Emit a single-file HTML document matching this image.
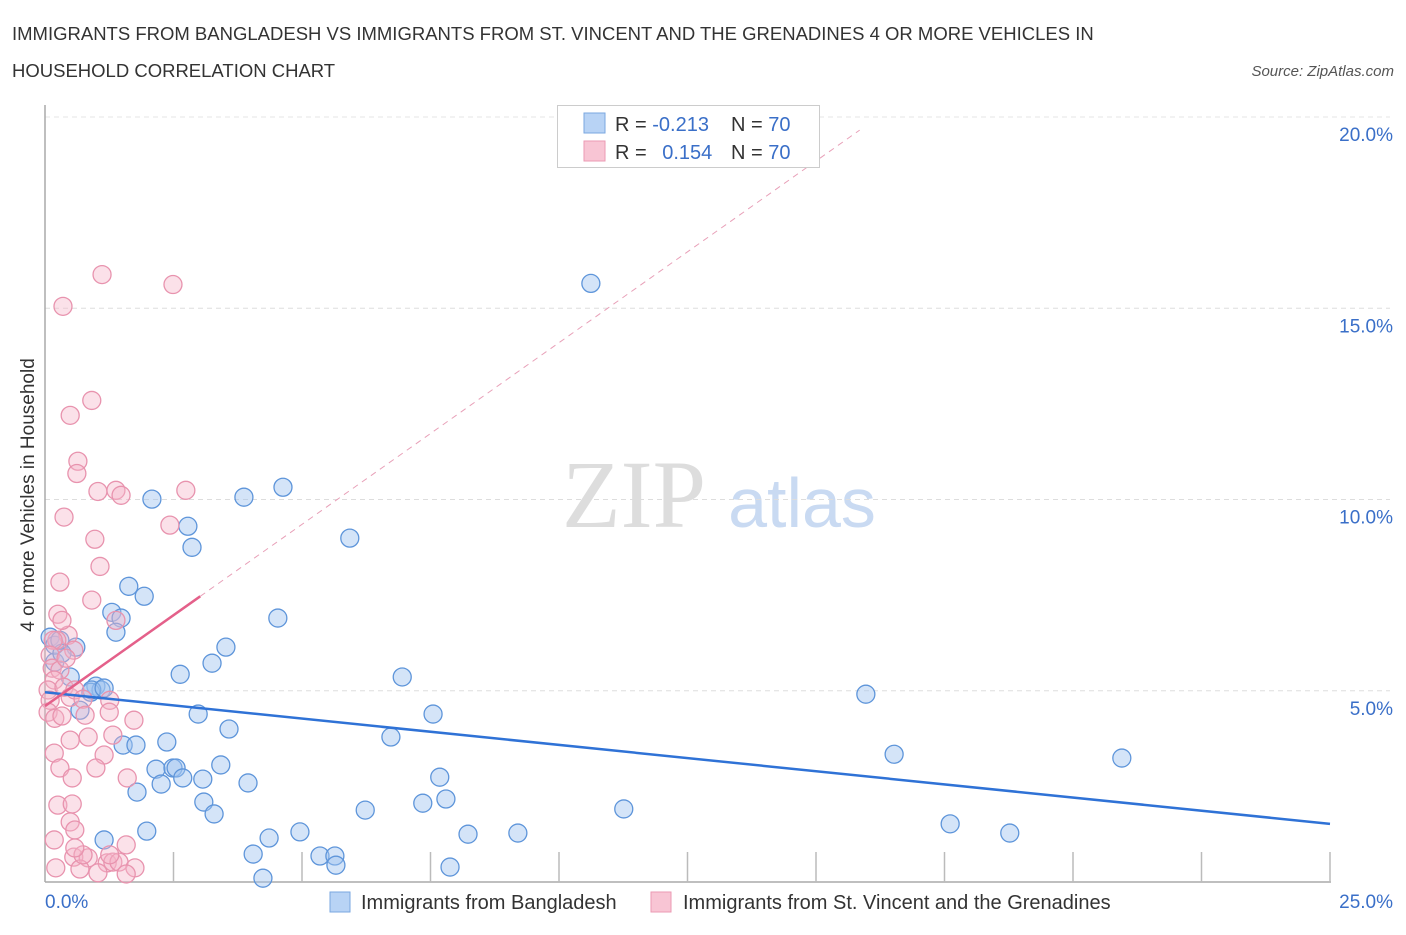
<!DOCTYPE html>
<html><head><meta charset="utf-8"><style>
body{margin:0;background:#fff;font-family:"Liberation Sans",sans-serif}
svg text{font-family:"Liberation Sans",sans-serif}
</style></head><body>
<svg id="c" width="1406" height="930" viewBox="0 0 1406 930">
<text x="12" y="40" font-size="18.5" fill="#333">IMMIGRANTS FROM BANGLADESH VS IMMIGRANTS FROM ST. VINCENT AND THE GRENADINES 4 OR MORE VEHICLES IN</text>
<text x="12" y="77" font-size="18.5" fill="#333">HOUSEHOLD CORRELATION CHART</text>
<text x="1394" y="76" font-size="15" fill="#555" font-style="italic" text-anchor="end">Source: ZipAtlas.com</text>
<text x="634" y="527" font-size="96" fill="#ddd" text-anchor="middle" style="font-family:'Liberation Serif',serif">ZIP</text>
<text x="802" y="527" font-size="70" fill="#c9daf2" text-anchor="middle">atlas</text>
<g id="grid"></g>
<g id="axes"></g>
<g id="marks"></g>
<text transform="translate(34,495) rotate(-90)" font-size="19" fill="#333" text-anchor="middle">4 or more Vehicles in Household</text>
<g>
<rect x="557.5" y="105.5" width="262" height="62" fill="#fff" stroke="#ccc"/>
<rect x="584" y="113" width="21" height="20" fill="#b8d3f5" stroke="#7aa7e0"/>
<rect x="584" y="141" width="21" height="20" fill="#f8c5d4" stroke="#eb9ab3"/>
<text x="615" y="131" font-size="20" fill="#333">R = <tspan fill="#3a6fc8">-0.213</tspan></text>
<text x="731" y="131" font-size="20" fill="#333">N = <tspan fill="#3a6fc8">70</tspan></text>
<text x="615" y="159" font-size="20" fill="#333">R = <tspan fill="#3a6fc8" dx="10">0.154</tspan></text>
<text x="731" y="159" font-size="20" fill="#333">N = <tspan fill="#3a6fc8">70</tspan></text>
</g>
<g>
<rect x="330" y="892" width="20" height="20" fill="#b8d3f5" stroke="#7aa7e0"/>
<text x="361" y="909" font-size="20" fill="#333">Immigrants from Bangladesh</text>
<rect x="651" y="892" width="20" height="20" fill="#f8c5d4" stroke="#eb9ab3"/>
<text x="683" y="909" font-size="20" fill="#333">Immigrants from St. Vincent and the Grenadines</text>
</g>
</svg>
<script>
const blueX=[10.62,4.63,3.87,2.08,2.78,2.86,5.93,1.63,1.93,1.30,1.48,1.38,4.53,3.52,0.60,3.25,2.63,6.95,0.19,0.10,0.19,0.49,0.99,1.09,0.89,0.68,2.98,7.55,3.58,6.73,1.52,1.77,2.37,15.97,16.52,20.95,3.42,2.16,2.49,2.55,2.68,3.07,7.68,3.95,1.79,2.26,3.09,3.29,6.23,7.35,7.80,11.26,1.98,1.15,4.36,4.96,8.23,9.20,17.61,18.77,4.05,5.35,5.64,5.66,7.88,4.24,0.29,0.33,0.91,1.15];
const blueY=[15.65,10.32,10.06,10.01,9.30,8.75,8.99,7.73,7.47,7.05,6.90,6.53,6.90,6.14,6.14,5.72,5.43,5.36,5.75,6.40,6.19,5.36,5.12,5.02,4.96,4.49,4.39,4.39,4.00,3.79,3.58,3.58,3.66,4.91,3.34,3.24,3.06,2.95,2.98,2.98,2.72,2.69,2.74,2.59,2.35,2.56,2.09,1.78,1.88,2.06,2.17,1.91,1.33,1.10,1.15,1.31,1.25,1.28,1.52,1.28,0.73,0.68,0.68,0.44,0.39,0.10,6.32,5.98,5.02,5.07];
const pinkX=[1.11,2.49,0.35,0.49,0.91,0.64,0.62,1.03,1.38,1.48,2.74,0.37,2.43,0.97,1.07,0.29,0.91,0.25,1.38,0.45,0.23,0.16,0.10,0.14,0.29,0.18,0.06,0.10,0.37,0.49,0.58,0.74,0.06,0.19,0.33,1.26,0.78,1.73,1.25,0.18,0.49,0.84,1.32,1.15,0.29,0.99,1.60,0.53,0.25,0.53,0.49,0.58,0.18,1.58,0.56,0.84,1.21,1.32,1.44,0.68,0.21,1.03,1.75,1.58,0.74,0.58,1.26,0.33,0.56,0.41];
const pinkY=[15.88,15.62,15.05,12.20,12.59,11.00,10.68,10.21,10.24,10.11,10.24,9.54,9.33,8.96,8.25,7.84,7.37,7.00,6.84,6.45,6.32,6.32,5.93,5.59,5.54,5.28,5.02,4.75,5.09,4.83,5.02,4.78,4.44,4.28,4.34,4.75,4.36,4.23,4.44,3.37,3.71,3.79,3.84,3.32,2.98,2.98,2.72,2.72,2.01,2.04,1.57,1.36,1.10,0.97,0.65,0.63,0.50,0.52,0.52,0.34,0.37,0.24,0.37,0.21,0.71,0.89,0.71,6.84,6.06,5.85];
const blueTrend=[4.96,1.52];
const pinkTrend=[4.60,0.95,3.02,15.85];
const yTicks=[5,10,15,20];
const xTicks=[0,2.5,5,7.5,10,12.5,15,17.5,20,22.5,25];

const NS="http://www.w3.org/2000/svg";
const PL=45,PR=1330,PT=117,PB=882;
const sx=v=>PL+(v/25)*(PR-PL);
const sy=v=>PB-(v/20)*(PB-PT);
function mk(tag,attrs,parent){const e=document.createElementNS(NS,tag);for(const k in attrs)e.setAttribute(k,attrs[k]);parent.appendChild(e);return e;}
const gridG=document.getElementById('grid'),axesG=document.getElementById('axes'),marksG=document.getElementById('marks');
yTicks.forEach(t=>{
  const g=mk('line',{x1:PL,x2:PR+60,y1:sy(t),y2:sy(t),stroke:'#ddd','stroke-dasharray':'5,4'},gridG);
  
  
  const tx=mk('text',{x:1393,y:sy(t)+24,'font-size':19,fill:'#3a6fc8','text-anchor':'end'},axesG);
  tx.textContent=t.toFixed(1)+'%';
  
  
});
const topLine=mk('line',{x1:PL,x2:PR+60,y1:PT,y2:PT,stroke:'#e4e4e4','stroke-dasharray':'5,4'},gridG);


const ya=mk('line',{x1:PL,x2:PL,y1:105,y2:PB,stroke:'#aaa','stroke-width':1.5},axesG);


const xa=mk('line',{x1:PL,x2:PR+1,y1:PB,y2:PB,stroke:'#aaa','stroke-width':1.5},axesG);


xTicks.forEach((t,i)=>{if(i===0)return;
  const k=mk('line',{x1:sx(t),x2:sx(t),y1:PB-30,y2:PB,stroke:'#bbb','stroke-width':1.5},axesG);
  
  
});
[[0,'start',45],[25,'end',1393]].forEach(([v,a,x])=>{
  const tx=mk('text',{x:x,y:908,'font-size':19,fill:'#3a6fc8','text-anchor':a},axesG);
  tx.textContent=v.toFixed(1)+'%';
  
  
});
const pd=mk('line',{x1:sx(pinkTrend[2]),y1:sy(pinkTrend[0]+pinkTrend[1]*pinkTrend[2]),x2:sx(pinkTrend[3]),y2:sy(pinkTrend[0]+pinkTrend[1]*pinkTrend[3]),stroke:'#e8a0b8','stroke-dasharray':'6,5','stroke-width':1},marksG);


blueX.forEach((x,i)=>{
  const c=mk('circle',{cx:sx(x),cy:sy(blueY[i]),r:9,fill:'rgba(160,196,240,0.45)',stroke:'#5e95da','stroke-width':1.3},marksG);
  
  
});
pinkX.forEach((x,i)=>{
  const c=mk('circle',{cx:sx(x),cy:sy(pinkY[i]),r:9,fill:'rgba(245,180,200,0.4)',stroke:'#e893ae','stroke-width':1.3},marksG);
  
  
});
const bl=mk('line',{x1:sx(0),y1:sy(blueTrend[0]),x2:sx(25),y2:sy(blueTrend[1]),stroke:'#2f72d6','stroke-width':2.5},marksG);


const pl=mk('line',{x1:sx(0),y1:sy(pinkTrend[0]),x2:sx(pinkTrend[2]),y2:sy(pinkTrend[0]+pinkTrend[1]*pinkTrend[2]),stroke:'#e4608a','stroke-width':2.5},marksG);


</script>
</body></html>
